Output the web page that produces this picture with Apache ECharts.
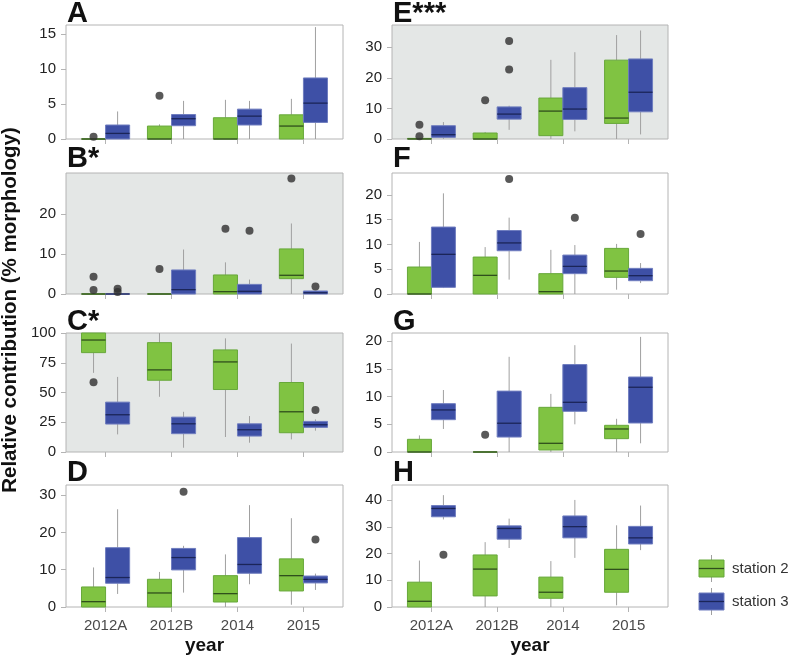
<!DOCTYPE html>
<html>
<head>
<meta charset="utf-8">
<script src="https://cdn.jsdelivr.net/npm/echarts@6/dist/echarts.min.js"></script>
<style>
  html, body { margin: 0; padding: 0; background: #fff; }
  #chart { width: 792px; height: 659px; }
</style>
</head>
<body>
<div id="chart"></div>
<script>
// categories
const years = ['2012A', '2012B', '2014', '2015'];

// box values per year: [min, q1, median, q3, max]; outliers: [year index, value]
const boxA2 = [[0, 0, 0, 0, 0], [0, 0, 0, 1.85, 2.1], [0, 0, 0, 3.04, 5.6], [0, 0, 1.85, 3.46, 5.74]];
const boxA3 = [[0, 0, 0.8, 2.0, 3.94], [0, 1.9, 2.9, 3.5, 5.45], [0, 2.0, 3.27, 4.27, 5.45], [0, 2.37, 5.13, 8.73, 16.0]];
const outA2 = [[0, 0.33], [1, 6.2]];
const outA3 = [];

const boxB2 = [[0, 0, 0, 0, 0], [0, 0, 0, 0, 0], [0, 0, 0.58, 4.75, 7.9], [0, 3.83, 4.67, 11.25, 17.6]];
const boxB3 = [[0, 0, 0, 0, 0], [0, 0, 1.08, 6.0, 11.1], [0, 0, 0.67, 2.4, 3.6], [0, 0, 0.3, 0.75, 0.75]];
const outB2 = [[0, 4.33], [0, 1.0], [1, 6.25], [2, 16.3], [3, 28.8]];
const outB3 = [[0, 1.3], [0, 0.5], [2, 15.8], [3, 1.9]];

const boxC2 = [[66.5, 83.5, 94.1, 100, 100], [46.4, 60.3, 69, 91.9, 100], [12.6, 52.5, 75.7, 85.8, 95.5], [10.6, 16.2, 33.8, 58.4, 91.1]];
const boxC3 = [[14.8, 23.5, 31.3, 41.9, 63.1], [3.6, 15.4, 23.7, 29.3, 33.8], [7.8, 13.4, 18.7, 23.7, 30.2], [17.9, 20.7, 22.9, 25.7, 27.4]];
const outC2 = [[0, 58.7]];
const outC3 = [[3, 35.2]];

const boxD2 = [[0, 0, 1.43, 5.37, 10.6], [0, 0, 3.76, 7.43, 9.4], [0, 1.34, 3.58, 8.4, 14.1], [0.6, 4.3, 8.4, 12.9, 23.8]];
const boxD3 = [[3.5, 6.36, 7.9, 15.9, 26.2], [3.85, 9.94, 13.25, 15.7, 16.4], [6.1, 9.04, 11.4, 18.6, 27.3], [4.57, 6.45, 7.4, 8.3, 8.95]];
const outD2 = [];
const outD3 = [[1, 30.9], [3, 18.1]];

const boxE2 = [[0, 0, 0, 0.2, 0.2], [0, 0, 0, 1.96, 2.3], [0, 1.09, 9.13, 13.4, 25.9], [0, 5.1, 6.85, 25.8, 34]];
const boxE3 = [[0, 0.54, 1.41, 4.35, 5.54], [3.0, 6.5, 8.15, 10.5, 10.9], [2.5, 6.4, 9.8, 16.8, 28.4], [1.5, 8.9, 15.3, 26.2, 35.5]];
const outE2 = [[0, 4.67], [0, 0.87], [1, 12.7]];
const outE3 = [[1, 32.1], [1, 22.7]];

const boxF2 = [[0, 0, 0, 5.44, 10.5], [0, 0, 3.76, 7.45, 9.46], [0, 0, 0.47, 4.1, 8.9], [0.87, 3.36, 4.63, 9.2, 10.1]];
const boxF3 = [[1.2, 1.34, 8.0, 13.5, 20.3], [2.9, 8.72, 10.3, 12.8, 15.4], [0, 4.1, 5.57, 7.85, 9.87], [2.2, 2.68, 3.69, 5.17, 6.24]];
const outF2 = [];
const outF3 = [[1, 23.2], [2, 15.4], [3, 12.1]];

const boxG2 = [[0, 0, 0, 2.29, 3.0], [0, 0, 0, 0, 0], [0, 0.36, 1.57, 8.07, 10.5], [0, 2.41, 4.16, 4.82, 6.0]];
const boxG3 = [[4.16, 5.84, 7.6, 8.73, 11.2], [0, 2.7, 5.2, 11.0, 17.2], [5.0, 7.35, 8.98, 15.8, 19.3], [1.57, 5.24, 11.7, 13.55, 20.8]];
const outG2 = [[1, 3.13]];
const outG3 = [];

const boxH2 = [[0, 0, 2.14, 9.3, 17.4], [0, 4.15, 14.2, 19.5, 24.3], [0, 3.27, 5.53, 11.2, 17.2], [0.63, 5.53, 14.1, 21.6, 30.6]];
const boxH3 = [[32.8, 33.8, 36.9, 38.0, 41.9], [22.1, 25.4, 29.4, 30.4, 33.1], [18.4, 25.9, 30.1, 34.1, 40.1], [21.3, 23.6, 25.9, 30.2, 38.0]];
const outH2 = [];
const outH3 = [[0, 19.6]];

// y axis ranges and tick labels
const yMax = { A: 16.3, B: 30.2, C: 100, D: 32.7, E: 37.3, F: 24.4, G: 21.5, H: 45.7 };
const ticksA = [0, 5, 10, 15];
const ticksB = [0, 10, 20];
const ticksC = [0, 25, 50, 75, 100];
const ticksD = [0, 10, 20, 30];
const ticksE = [0, 10, 20, 30];
const ticksF = [0, 5, 10, 15, 20];
const ticksG = [0, 5, 10, 15, 20];
const ticksH = [0, 10, 20, 30, 40];

const panelTitles = ['A', 'B*', 'C*', 'D', 'E***', 'F', 'G', 'H'];

// layout
const GREEN = '#80c342', GREEN_EDGE = '#67a83a', GREEN_MED = '#2f4f1c';
const BLUE = '#3e50a6', BLUE_EDGE = '#6f7dbf', BLUE_MED = '#1b2558';
const SHADE = '#e4e7e6';
const BOX_W = 0.365;

const panels = [
  { id: 'A', box2: boxA2, box3: boxA3, out2: outA2, out3: outA3, ticks: ticksA, col: 0, row: 0, shade: false },
  { id: 'B', box2: boxB2, box3: boxB3, out2: outB2, out3: outB3, ticks: ticksB, col: 0, row: 1, shade: true },
  { id: 'C', box2: boxC2, box3: boxC3, out2: outC2, out3: outC3, ticks: ticksC, col: 0, row: 2, shade: true },
  { id: 'D', box2: boxD2, box3: boxD3, out2: outD2, out3: outD3, ticks: ticksD, col: 0, row: 3, shade: false },
  { id: 'E', box2: boxE2, box3: boxE3, out2: outE2, out3: outE3, ticks: ticksE, col: 1, row: 0, shade: true },
  { id: 'F', box2: boxF2, box3: boxF3, out2: outF2, out3: outF3, ticks: ticksF, col: 1, row: 1, shade: false },
  { id: 'G', box2: boxG2, box3: boxG3, out2: outG2, out3: outG3, ticks: ticksG, col: 1, row: 2, shade: false },
  { id: 'H', box2: boxH2, box3: boxH3, out2: outH2, out3: outH3, ticks: ticksH, col: 1, row: 3, shade: false }
];

const colLeft = [66, 392];
const colWidth = [277, 276];
const rowTop = [25, 173, 333, 485];
const rowHeight = [114, 121, 119, 122];
const letterY = [14, 159, 322, 473];

function makeRender(fill, edge, med) {
  return function (params, api) {
    const x = api.value(0);
    const lo = api.coord([x, api.value(1)]);
    const q1 = api.coord([x, api.value(2)]);
    const md = api.coord([x, api.value(3)]);
    const q3 = api.coord([x, api.value(4)]);
    const hi = api.coord([x, api.value(5)]);
    const half = api.size([BOX_W, 0])[0] / 2;
    const wh = { stroke: '#a0a0a0', lineWidth: 1 };
    return {
      type: 'group',
      children: [
        { type: 'line', shape: { x1: lo[0], y1: lo[1], x2: q1[0], y2: q1[1] }, style: wh },
        { type: 'line', shape: { x1: q3[0], y1: q3[1], x2: hi[0], y2: hi[1] }, style: wh },
        { type: 'rect', shape: { x: q3[0] - half, y: q3[1], width: half * 2, height: q1[1] - q3[1] },
          style: { fill: fill, stroke: edge, lineWidth: 1 } },
        { type: 'line', shape: { x1: md[0] - half, y1: md[1], x2: md[0] + half, y2: md[1] },
          style: { stroke: med, lineWidth: 1.3 } }
      ]
    };
  };
}

const grid = [], xAxis = [], yAxis = [], series = [], graphic = [];

panels.forEach((p, i) => {
  const bottom = p.row === 3;
  grid.push({
    left: colLeft[p.col], top: rowTop[p.row], width: colWidth[p.col], height: rowHeight[p.row],
    show: true, borderColor: '#b4b4b4', borderWidth: 1,
    backgroundColor: p.shade ? SHADE : '#fff',
    containLabel: false, outerBoundsMode: 'none'
  });
  xAxis.push({
    type: 'value', gridIndex: i, min: 0.4, max: 4.6,
    splitLine: { show: false },
    axisLine: { show: false },
    axisTick: { show: true, customValues: [1, 2, 3, 4], length: 5, lineStyle: { color: '#b4b4b4' } },
    axisLabel: {
      show: bottom, customValues: [1, 2, 3, 4], margin: 11,
      formatter: v => years[Math.round(v) - 1],
      color: '#4a4a4a', fontSize: 15, fontFamily: 'Liberation Sans'
    },
    name: bottom ? 'year' : '', nameLocation: 'middle', nameGap: 29,
    nameTextStyle: { fontSize: 19, fontWeight: 'bold', color: '#111', fontFamily: 'Liberation Sans' }
  });
  yAxis.push({
    type: 'value', gridIndex: i, min: 0, max: yMax[p.id],
    splitLine: { show: false },
    axisLine: { show: false },
    axisTick: { show: true, customValues: p.ticks, length: 5, lineStyle: { color: '#b4b4b4' } },
    axisLabel: {
      customValues: p.ticks, margin: 10,
      color: '#222', fontSize: 15, fontFamily: 'Liberation Sans'
    }
  });
  series.push({
    name: 'station 2', type: 'custom', xAxisIndex: i, yAxisIndex: i,
    renderItem: makeRender(GREEN, GREEN_EDGE, GREEN_MED),
    encode: { x: 0, y: [1, 2, 3, 4, 5] },
    data: p.box2.map((b, k) => [k + 1 - BOX_W / 2].concat(b))
  });
  series.push({
    name: 'station 3', type: 'custom', xAxisIndex: i, yAxisIndex: i,
    renderItem: makeRender(BLUE, BLUE_EDGE, BLUE_MED),
    encode: { x: 0, y: [1, 2, 3, 4, 5] },
    data: p.box3.map((b, k) => [k + 1 + BOX_W / 2].concat(b))
  });
  series.push({
    type: 'scatter', xAxisIndex: i, yAxisIndex: i, symbolSize: 8, z: 5,
    itemStyle: { color: '#2f2f2f' },
    data: p.out2.map(o => [o[0] + 1 - BOX_W / 2, o[1]]).concat(p.out3.map(o => [o[0] + 1 + BOX_W / 2, o[1]]))
  });
  graphic.push({
    type: 'text', x: colLeft[p.col] + 1, y: letterY[p.row],
    style: {
      text: panelTitles[i], fill: '#111', fontSize: 29, fontWeight: 'bold',
      fontFamily: 'Liberation Sans', verticalAlign: 'middle', align: 'left'
    }
  });
});

// shared y axis title
graphic.push({
  type: 'text', x: 10, y: 310, rotation: Math.PI / 2,
  style: {
    text: 'Relative contribution (% morphology)', fill: '#111', fontSize: 20.5, fontWeight: 'bold',
    fontFamily: 'Liberation Sans', align: 'center', verticalAlign: 'middle'
  }
});

// legend
[[GREEN, GREEN_EDGE, GREEN_MED, 'station 2', 560], [BLUE, BLUE_EDGE, BLUE_MED, 'station 3', 593]].forEach(l => {
  const y = l[4];
  graphic.push({ type: 'line', shape: { x1: 711.5, y1: y - 5, x2: 711.5, y2: y + 22 }, style: { stroke: '#a0a0a0', lineWidth: 1 } });
  graphic.push({ type: 'rect', shape: { x: 699, y: y, width: 25, height: 17 }, style: { fill: l[0], stroke: l[1], lineWidth: 1 } });
  graphic.push({ type: 'line', shape: { x1: 699, y1: y + 8.5, x2: 724, y2: y + 8.5 }, style: { stroke: l[2], lineWidth: 1.3 } });
  graphic.push({
    type: 'text', x: 732, y: y + 8.5,
    style: { text: l[3], fill: '#333', fontSize: 15, fontFamily: 'Liberation Sans', verticalAlign: 'middle' }
  });
});

const chart = echarts.init(document.getElementById('chart'), null, { renderer: 'canvas' });
chart.setOption({
  animation: false,
  backgroundColor: '#fff',
  grid: grid,
  xAxis: xAxis,
  yAxis: yAxis,
  series: series,
  graphic: graphic
});
</script>
</body>
</html>
